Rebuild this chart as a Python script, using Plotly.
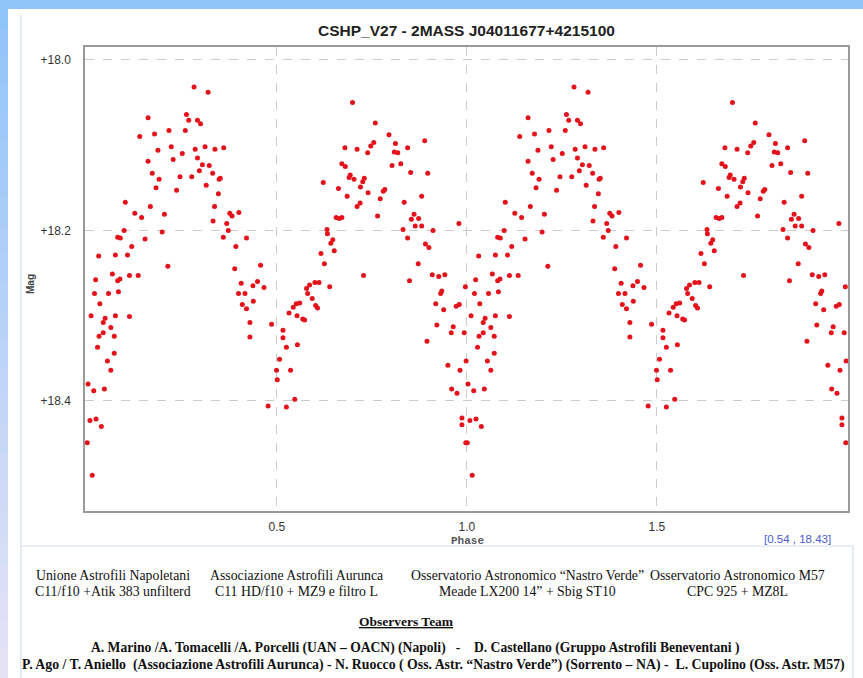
import plotly.graph_objects as go

# folded light curve, one cycle (phase 0..1); plotted twice like the original
PHASE = [
    0.282, 0.319, 0.161, 0.262, 0.268, 0.291, 0.299, 0.139, 0.178, 0.216,
    0.259, 0.187, 0.222, 0.285, 0.311, 0.337, 0.360, 0.161, 0.227, 0.251,
    0.291, 0.304, 0.322, 0.172, 0.190, 0.245, 0.276, 0.296, 0.331, 0.348,
    0.351, 0.182, 0.236, 0.314, 0.346, 0.101, 0.167, 0.126, 0.144, 0.204,
    0.336, 0.332, 0.376, 0.382, 0.400, 0.368, 0.372, 0.098, 0.081, 0.088,
    0.153, 0.198, 0.359, 0.420, 0.118, 0.031, 0.075, 0.107, 0.392, 0.213,
    0.389, 0.067, 0.112, 0.135, 0.087, 0.081, 0.457, 0.406, 0.437, 0.449,
    0.466, 0.023,
    0.020, 0.057, 0.083, 0.034, 0.011, 0.048, 0.043, 0.075, 0.112, 0.063,
    0.032, 0.043, 0.072, 0.028, 0.072, 0.054, 0.063, 0.003, 0.018, 0.046,
    0.008, 0.024, 0.038, 0.001, 0.014, 0.399, 0.416, 0.409, 0.420, 0.438,
    0.429, 0.429, 0.486, 0.477,
    0.699, 0.759, 0.795, 0.889, 0.679, 0.711, 0.747, 0.755, 0.739, 0.812,
    0.809, 0.818, 0.844, 0.671, 0.680, 0.803, 0.826, 0.852, 0.897, 0.693,
    0.690, 0.703, 0.730, 0.726, 0.720, 0.622, 0.662, 0.740, 0.784, 0.780,
    0.685, 0.772, 0.719, 0.711, 0.835, 0.881, 0.765, 0.656, 0.664, 0.671,
    0.854, 0.861, 0.873, 0.864, 0.881, 0.832, 0.911, 0.979, 0.632, 0.633,
    0.647, 0.642, 0.651, 0.616, 0.625, 0.844, 0.891, 0.900, 0.872, 0.728,
    0.909, 0.926, 0.942, 0.849, 0.600, 0.611, 0.586, 0.639, 0.578, 0.996,
    0.581, 0.593, 0.602, 0.607, 0.560, 0.551, 0.543, 0.532, 0.553, 0.568,
    0.573, 0.516, 0.516, 0.525, 0.554, 0.507, 0.499, 0.501, 0.536, 0.547,
    0.525, 0.931, 0.934, 0.918, 0.939, 0.972, 0.980, 0.921, 0.964, 0.959,
    0.993, 0.895, 0.950, 0.982, 0.998, 0.960, 0.974, 0.987, 0.987, 0.997,
]

MAG = [
    18.032, 18.038, 18.068, 18.064, 18.071, 18.071, 18.075, 18.090, 18.087, 18.083,
    18.083, 18.106, 18.102, 18.105, 18.102, 18.105, 18.103, 18.119, 18.117, 18.110,
    18.115, 18.123, 18.124, 18.133, 18.140, 18.137, 18.137, 18.130, 18.133, 18.140,
    18.139, 18.150, 18.153, 18.147, 18.157, 18.167, 18.172, 18.180, 18.185, 18.181,
    18.172, 18.189, 18.180, 18.183, 18.179, 18.192, 18.200, 18.200, 18.208, 18.209,
    18.210, 18.202, 18.208, 18.209, 18.219, 18.230, 18.229, 18.229, 18.219, 18.242,
    18.245, 18.251, 18.253, 18.253, 18.257, 18.259, 18.241, 18.262, 18.265, 18.260,
    18.267, 18.258,
    18.274, 18.274, 18.272, 18.286, 18.300, 18.303, 18.308, 18.300, 18.301, 18.314,
    18.324, 18.320, 18.324, 18.337, 18.344, 18.353, 18.364, 18.380, 18.388, 18.386,
    18.423, 18.421, 18.430, 18.449, 18.487, 18.274, 18.274, 18.287, 18.292, 18.283,
    18.308, 18.325, 18.310, 18.406,
    18.050, 18.074, 18.088, 18.095, 18.103, 18.105, 18.101, 18.097, 18.109, 18.098,
    18.108, 18.109, 18.103, 18.122, 18.125, 18.124, 18.122, 18.132, 18.133, 18.135,
    18.138, 18.140, 18.139, 18.143, 18.149, 18.144, 18.151, 18.156, 18.152, 18.154,
    18.160, 18.163, 18.168, 18.172, 18.167, 18.160, 18.183, 18.185, 18.186, 18.185,
    18.187, 18.181, 18.186, 18.195, 18.195, 18.199, 18.200, 18.192, 18.199, 18.204,
    18.211, 18.215, 18.224, 18.227, 18.239, 18.209, 18.216, 18.220, 18.239, 18.253,
    18.252, 18.254, 18.252, 18.259, 18.261, 18.261, 18.264, 18.266, 18.268, 18.266,
    18.274, 18.280, 18.288, 18.291, 18.285, 18.286, 18.290, 18.297, 18.300, 18.304,
    18.305, 18.317, 18.326, 18.337, 18.334, 18.351, 18.364, 18.375, 18.364, 18.398,
    18.407, 18.274, 18.271, 18.286, 18.293, 18.289, 18.287, 18.311, 18.313, 18.320,
    18.320, 18.330, 18.358, 18.364, 18.353, 18.386, 18.391, 18.420, 18.428, 18.449,
]

TITLE = "CSHP_V27 - 2MASS J04011677+4215100"
X_TICKS = [0.5, 1.0, 1.5]
Y_TICKS = [18.0, 18.2, 18.4]
CURSOR_TEXT = "[0.54 , 18.43]"

INSTRUMENTS = [
    ("Unione Astrofili Napoletani", "C11/f10 +Atik 383 unfilterd", 113),
    ("Associazione Astrofili Aurunca", "C11 HD/f10 + MZ9 e filtro L", 296),
    ("Osservatorio Astronomico \u201cNastro Verde\u201d", "Meade LX200 14\u201d + Sbig ST10", 527),
    ("Osservatorio Astronomico M57", "CPC 925 + MZ8L", 737),
]
NB = "\u00a0"
TEAM_LINES = [
    "A. Marino /A. Tomacelli /A. Porcelli (UAN \u2013 OACN) (Napoli)" + NB * 3 + "-" + NB * 4
    + "D. Castellano (Gruppo Astrofili Beneventani )",
    "P. Ago / T. Aniello" + NB * 2 + "(Associazione Astrofili Aurunca) - N. Ruocco ( Oss. Astr. "
    "\u201cNastro Verde\u201d) (Sorrento \u2013 NA) -" + NB * 2 + "L. Cupolino (Oss. Astr. M57)",
]

W, H = 863, 678
L, R, T, B = 85, 848, 47, 511


def px(x):
    return (x - L) / (R - L)


def py(y):
    return (B - y) / (B - T)


fig = go.Figure()
fig.add_trace(go.Scatter(
    x=PHASE + [p + 1 for p in PHASE],
    y=MAG + MAG,
    mode="markers",
    marker=dict(color="#e3121b", size=5, line=dict(width=0)),
    hoverinfo="skip",
))

shapes = []
# blue window frame (top band + left gradient band)
shapes.append(dict(type="rect", xref="paper", yref="paper", x0=px(0), x1=px(W),
                   y0=py(0), y1=py(9), fillcolor="#8fc4f8", line_width=0, layer="below"))
top_c, bot_c = (143, 196, 248), (229, 226, 246)
n = 24
for i in range(n):
    t = i / (n - 1)
    c = tuple(round(a + (b - a) * t) for a, b in zip(top_c, bot_c))
    shapes.append(dict(type="rect", xref="paper", yref="paper", x0=px(0), x1=px(8),
                       y0=py(H * i / n), y1=py(H * (i + 1) / n + 1),
                       fillcolor="rgb(%d,%d,%d)" % c, line_width=0, layer="below"))
# thin panel borders
for x0, y0, x1, y1 in [(21, 15, 21, 678), (21, 546, 853, 546), (853, 546, 853, 678)]:
    shapes.append(dict(type="line", xref="paper", yref="paper",
                       x0=px(x0), y0=py(y0), x1=px(x1), y1=py(y1),
                       line=dict(color="#d3dfec", width=1.2), layer="below"))

ann = []
ann.append(dict(text="<b>%s</b>" % TITLE, x=px(466), y=py(31),
                font=dict(family="Liberation Sans, Arial", size=15.5, color="#222")))
ann.append(dict(text="<b>Mag</b>", x=px(30), y=py(284), textangle=-90,
                font=dict(family="Liberation Sans, Arial", size=10, color="#444")))
ann.append(dict(text="<b>Phase</b>", x=px(467), y=py(541),
                font=dict(family="Liberation Mono, Courier New", size=11, color="#555")))
ann.append(dict(text=CURSOR_TEXT, x=px(797), y=py(539),
                font=dict(family="Liberation Sans, Arial", size=11.5, color="#4b5bd4")))
serif = "Liberation Serif, Times New Roman"
for top, bottom, cx in INSTRUMENTS:
    ann.append(dict(text=top, x=px(cx), y=py(575), font=dict(family=serif, size=13.8, color="#111")))
    ann.append(dict(text=bottom, x=px(cx), y=py(591), font=dict(family=serif, size=13.8, color="#111")))
ann.append(dict(text="<b><u>Observers Team</u></b>", x=px(406), y=py(621),
                font=dict(family=serif, size=13.5, color="#111")))
ann.append(dict(text="<b>%s</b>" % TEAM_LINES[0], x=px(415), y=py(648),
                font=dict(family=serif, size=13.6, color="#111")))
ann.append(dict(text="<b>%s</b>" % TEAM_LINES[1], x=px(433), y=py(665),
                font=dict(family=serif, size=13.8, color="#111")))
for a in ann:
    a.update(xref="paper", yref="paper", showarrow=False, xanchor="center", yanchor="middle")

fig.update_layout(
    width=W,
    height=H,
    margin=dict(l=L, r=W - R, t=T, b=H - B),
    paper_bgcolor="white",
    plot_bgcolor="white",
    showlegend=False,
    shapes=shapes,
    annotations=ann,
)
fig.update_xaxes(
    range=[-0.005, 2.003],
    tickvals=X_TICKS,
    ticktext=["%.1f" % v for v in X_TICKS],
    ticks="outside", ticklen=4, tickcolor="rgba(0,0,0,0)",
    tickfont=dict(family="Liberation Sans, Arial", size=12, color="#333"),
    showgrid=True, gridcolor="#cccccc", griddash="dash", gridwidth=1,
    showline=True, mirror=True, linecolor="#9a9a9a", linewidth=1.5,
    zeroline=False,
)
fig.update_yaxes(
    range=[18.529, 17.985],
    tickvals=Y_TICKS,
    ticktext=["+%.1f" % v for v in Y_TICKS],
    ticks="outside", ticklen=10, tickcolor="rgba(0,0,0,0)",
    tickfont=dict(family="Liberation Sans, Arial", size=12, color="#333"),
    showgrid=True, gridcolor="#cccccc", griddash="dash", gridwidth=1,
    showline=True, mirror=True, linecolor="#9a9a9a", linewidth=1.5,
    zeroline=False,
)

# drop the page's default body margin so the figure sits at the window corner
fig.write_html("out.html", config={"displayModeBar": False},
               post_script="document.body.style.margin='0';")
